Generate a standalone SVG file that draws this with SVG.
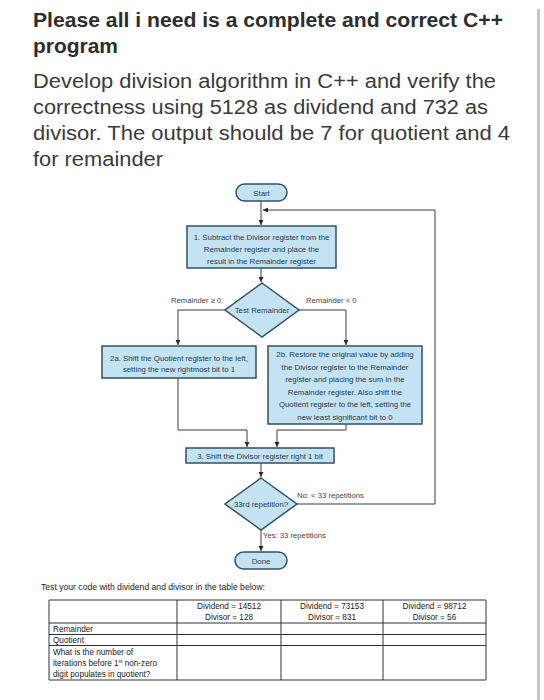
<svg xmlns="http://www.w3.org/2000/svg" width="544" height="700" viewBox="0 0 544 700">
<style>
.h1{font-family:"Liberation Sans",Arial,sans-serif;font-weight:bold;font-size:20px;fill:#2e2e2e}
.h2{font-family:"Liberation Sans",Arial,sans-serif;font-size:20px;fill:#3a3a3a}
.box{fill:#c3e2f2;stroke:#34505f;stroke-width:1.5}
.t{font-family:"Liberation Sans",Arial,sans-serif;font-size:7.8px;fill:#233a4e;text-anchor:middle}
.lbl{font-family:"Liberation Sans",Arial,sans-serif;font-size:7.7px;fill:#444}
.conn path{fill:none;stroke:#3a3a3a;stroke-width:1}
.tb{font-family:"Liberation Sans",Arial,sans-serif;font-size:8.2px;fill:#222}
.tbc{text-anchor:middle}
.grid line{stroke:#333;stroke-width:1}
</style>
<defs>
<marker id="ah" markerWidth="6" markerHeight="6" refX="5" refY="3" orient="auto" markerUnits="userSpaceOnUse">
<path d="M0,0.5 L5,3 L0,5.5 Z" fill="#2a2a2a"/>
</marker>
</defs>
<rect width="544" height="700" fill="#ffffff"/>
<rect x="537" y="9" width="3" height="691" fill="#c4c4c4"/>

<g id="header">
<text class="h1" x="33" y="27" textLength="470" lengthAdjust="spacingAndGlyphs">Please all i need is a complete and correct C++</text>
<text class="h1" x="33" y="53" textLength="85" lengthAdjust="spacingAndGlyphs">program</text>
<text class="h2" x="33" y="88" textLength="463" lengthAdjust="spacingAndGlyphs">Develop division algorithm in C++ and verify the</text>
<text class="h2" x="33" y="114" textLength="455" lengthAdjust="spacingAndGlyphs">correctness using 5128 as dividend and 732 as</text>
<text class="h2" x="33" y="140" textLength="477" lengthAdjust="spacingAndGlyphs">divisor. The output should be 7 for quotient and 4</text>
<text class="h2" x="33" y="166" textLength="130" lengthAdjust="spacingAndGlyphs">for remainder</text>
</g>

<g class="conn" id="connectors">
<path d="M261,201 V225" marker-end="url(#ah)"/>
<path d="M297,504 H435 V210 H263" marker-end="url(#ah)"/>
<path d="M261,268 V282" marker-end="url(#ah)"/>
<path d="M225,310 H178 V345" marker-end="url(#ah)"/>
<path d="M299,310 H346 V345" marker-end="url(#ah)"/>
<path d="M178,378 V430 H247 V447" marker-end="url(#ah)"/>
<path d="M346,424 V430 H277 V447" marker-end="url(#ah)"/>
<path d="M261,463 V477" marker-end="url(#ah)"/>
<path d="M261,530 V551" marker-end="url(#ah)"/>
</g>

<g id="start">
<rect class="box" x="236" y="184" width="51" height="17" rx="8.5"/>
<text class="t" x="261.5" y="195.5">Start</text>
</g>

<g id="step1">
<rect class="box" x="187" y="226" width="149" height="42"/>
<text class="t" x="261.5" y="240">1.  Subtract the Divisor register from the</text>
<text class="t" x="261.5" y="252">Remainder register and place the</text>
<text class="t" x="261.5" y="264">result in the Remainder register</text>
</g>

<g id="test">
<path class="box" d="M262,283 L299,310 L262,337 L225,310 Z"/>
<text class="t" x="262" y="313">Test Remainder</text>
</g>
<text class="lbl" x="171" y="303">Remainder ≥ 0</text>
<text class="lbl" x="306" y="303">Remainder &lt; 0</text>

<g id="step2a">
<rect class="box" x="102" y="346" width="154" height="32"/>
<text class="t" x="179" y="360.5">2a.  Shift the Quotient register to the left,</text>
<text class="t" x="179" y="372">setting the new rightmost bit to 1</text>
</g>

<g id="step2b">
<rect class="box" x="268" y="346" width="154" height="78"/>
<text class="t" x="345" y="357">2b.  Restore the original value by adding</text>
<text class="t" x="345" y="369.5">the Divisor register to the Remainder</text>
<text class="t" x="345" y="382">register and placing the sum in the</text>
<text class="t" x="345" y="394.5">Remainder register. Also shift the</text>
<text class="t" x="345" y="407">Quotient register to the left, setting the</text>
<text class="t" x="345" y="419.5">new least significant bit to 0</text>
</g>

<g id="step3">
<rect class="box" x="186" y="448" width="148" height="15"/>
<text class="t" x="260" y="458.5">3.  Shift the Divisor register right 1 bit</text>
</g>

<g id="rep">
<path class="box" d="M261,478 L297,504 L261,530 L225,504 Z"/>
<text class="t" x="261" y="507">33rd repetition?</text>
</g>
<text class="lbl" x="297" y="498">No: &lt; 33 repetitions</text>
<text class="lbl" x="263" y="538">Yes: 33 repetitions</text>

<g id="done">
<rect class="box" x="235" y="552" width="52" height="17" rx="8.5"/>
<text class="t" x="261" y="563.5">Done</text>
</g>

<g id="table">
<text class="tb" x="41" y="590" textLength="224" lengthAdjust="spacingAndGlyphs">Test your code with dividend and divisor in the table below:</text>
<g class="grid">
<line x1="49" y1="600" x2="486" y2="600"/>
<line x1="49" y1="623" x2="486" y2="623"/>
<line x1="49" y1="634.5" x2="486" y2="634.5"/>
<line x1="49" y1="645.5" x2="486" y2="645.5"/>
<line x1="49" y1="680" x2="486" y2="680"/>
<line x1="49" y1="600" x2="49" y2="680"/>
<line x1="177" y1="600" x2="177" y2="680"/>
<line x1="281" y1="600" x2="281" y2="680"/>
<line x1="383" y1="600" x2="383" y2="680"/>
<line x1="486" y1="600" x2="486" y2="680"/>
</g>
<text class="tb tbc" x="229" y="609">Dividend = 14512</text>
<text class="tb tbc" x="229" y="620">Divisor = 128</text>
<text class="tb tbc" x="332" y="609">Dividend = 73153</text>
<text class="tb tbc" x="332" y="620">Divisor = 831</text>
<text class="tb tbc" x="434.5" y="609">Dividend = 98712</text>
<text class="tb tbc" x="434.5" y="620">Divisor = 56</text>
<text class="tb" x="53" y="631.5">Remainder</text>
<text class="tb" x="53" y="643">Quotient</text>
<text class="tb" x="53" y="655">What is the number of</text>
<text class="tb" x="53" y="666">iterations before 1<tspan font-size="5px" dy="-3">st</tspan><tspan dy="3"> non-zero</tspan></text>
<text class="tb" x="53" y="677">digit populates in quotient?</text>
</g>
</svg>
